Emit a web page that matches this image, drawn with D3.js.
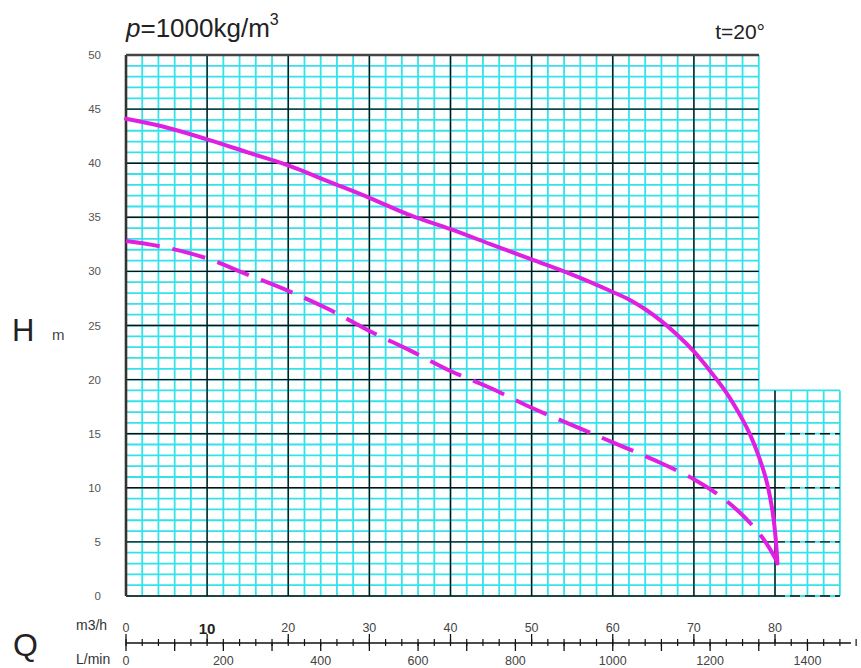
<!DOCTYPE html>
<html>
<head>
<meta charset="utf-8">
<script src="https://cdn.jsdelivr.net/npm/d3@7/dist/d3.min.js"></script>
<style>
  html, body { margin: 0; padding: 0; background: #fff; }
  svg { display: block; font-family: "Liberation Sans", Arial, sans-serif; }
</style>
</head>
<body>
<svg id="chart" width="861" height="668"></svg>
<script>
// ---- data ----
const hTicks = [0, 5, 10, 15, 20, 25, 30, 35, 40, 45, 50];
const qTicks = [0, 10, 20, 30, 40, 50, 60, 70, 80];
const lminTicks = [0, 200, 400, 600, 800, 1000, 1200, 1400];

// solid curve (H-Q)
const solidQ = [0, 5, 10, 15, 20, 25, 30, 35, 40, 45, 50, 55, 60, 62, 64, 66, 68, 70, 72, 74, 76, 77, 78, 79, 79.7, 80.1, 80.3];
const solidH = [44.1, 43.3, 42.2, 41.0, 39.8, 38.3, 36.8, 35.2, 33.9, 32.5, 31.1, 29.7, 28.1, 27.4, 26.5, 25.4, 24.1, 22.6, 20.8, 18.8, 16.3, 14.8, 12.9, 10.5, 7.8, 5.2, 3.0];
// dashed curve
const dashQ = [0, 5, 10, 15, 20, 25, 30, 35, 40, 45, 50, 55, 60, 65, 70, 74, 77, 79, 80.3];
const dashH = [32.8, 32.2, 31.2, 29.7, 28.2, 26.5, 24.5, 22.7, 20.8, 19.2, 17.4, 15.8, 14.2, 12.6, 10.8, 8.8, 6.7, 4.8, 3.1];

// grid extents (m3/h, m)
const gridMainQ = 78, gridExtQ = 88, gridExtH = 19;

const svg = d3.select("#chart");
const x = d3.scaleLinear().domain([0, 80]).range([126, 775]);
const xL = d3.scaleLinear().domain([0, 80 / 0.06]).range([126, 775]);
const y = d3.scaleLinear().domain([0, 50]).range([596, 55]);

const cyan = "#35e2ea";
const g = svg.append("g");

// cyan minor grid
const vMinor = d3.range(0, gridExtQ + 0.001, 2);
g.selectAll(".vmin").data(vMinor).join("line")
  .attr("x1", d => x(d)).attr("x2", d => x(d))
  .attr("y1", y(0)).attr("y2", d => y(d <= gridMainQ ? 50 : gridExtH))
  .attr("stroke", cyan).attr("stroke-width", 1.8);
const hMinor = d3.range(0, 50.001, 1);
g.selectAll(".hmin").data(hMinor).join("line")
  .attr("x1", x(0)).attr("x2", d => x(d <= gridExtH ? gridExtQ : gridMainQ))
  .attr("y1", d => y(d)).attr("y2", d => y(d))
  .attr("stroke", cyan).attr("stroke-width", 1.8);

// black major grid
const vMajor = d3.range(0, 80.001, 10);
g.selectAll(".vmaj").data(vMajor).join("line")
  .attr("x1", d => x(d)).attr("x2", d => x(d))
  .attr("y1", y(0)).attr("y2", d => y(d <= gridMainQ ? 50 : gridExtH))
  .attr("stroke", "#111").attr("stroke-width", 1.4);
const hMajor = d3.range(0, 50.001, 5);
g.selectAll(".hmaj").data(hMajor).join("line")
  .attr("x1", x(0)).attr("x2", d => x(d <= gridExtH ? 80 : gridMainQ))
  .attr("y1", d => y(d)).attr("y2", d => y(d))
  .attr("stroke", "#111").attr("stroke-width", 1.4);
g.selectAll(".hmajd").data(hMajor.filter(d => d <= gridExtH)).join("line")
  .attr("x1", x(80)).attr("x2", x(gridExtQ))
  .attr("y1", d => y(d)).attr("y2", d => y(d))
  .attr("stroke", "#111").attr("stroke-width", 1.4)
  .attr("stroke-dasharray", "10,5");

// borders
g.append("line").attr("x1", x(0)).attr("x2", x(0)).attr("y1", y(0)).attr("y2", y(50))
  .attr("stroke", "#333").attr("stroke-width", 2.6);
g.append("line").attr("x1", x(0)).attr("x2", x(gridMainQ)).attr("y1", y(50)).attr("y2", y(50))
  .attr("stroke", "#444").attr("stroke-width", 2.6);

// curves
const line = d3.line().x(d => x(d[0])).y(d => y(d[1])).curve(d3.curveCatmullRom.alpha(0.5));
const solidPts = solidQ.map((q, i) => [q, solidH[i]]);
const dashPts = dashQ.map((q, i) => [q, dashH[i]]);
g.append("path").attr("d", line(solidPts)).attr("fill", "none")
  .attr("stroke", "#e020e0").attr("stroke-width", 4).attr("stroke-linecap", "round");
g.append("path").attr("d", line(dashPts)).attr("fill", "none")
  .attr("stroke", "#e020e0").attr("stroke-width", 4)
  .attr("stroke-dasharray", "34,13");

// y tick labels
svg.selectAll(".ylab").data(hTicks).join("text")
  .attr("x", 101).attr("y", d => y(d) + 4)
  .attr("text-anchor", "end").attr("font-size", 11.5).attr("fill", "#555")
  .text(d => d);

// H label
svg.append("text").attr("x", 12).attr("y", 341).attr("font-size", 31).attr("fill", "#222").text("H");
svg.append("text").attr("x", 52).attr("y", 340).attr("font-size", 15).attr("fill", "#444").text("m");

// title texts
const t = svg.append("text").attr("x", 126).attr("y", 37).attr("font-size", 26).attr("fill", "#222");
t.append("tspan").attr("font-style", "italic").text("p");
t.append("tspan").text("=1000kg/m");
t.append("tspan").attr("font-size", 16).attr("dy", -12).text("3");
svg.append("text").attr("x", 765).attr("y", 39).attr("text-anchor", "end")
  .attr("font-size", 21).attr("fill", "#222").text("t=20°");

// bottom Q axis
const axY = 643;
svg.append("line").attr("x1", x(0)).attr("x2", 851).attr("y1", axY).attr("y2", axY)
  .attr("stroke", "#111").attr("stroke-width", 1.3);
const minorQ = d3.range(0, 90.001, 2);
svg.selectAll(".mt").data(minorQ).join("line")
  .attr("x1", d => x(d)).attr("x2", d => x(d))
  .attr("y1", axY - 4).attr("y2", axY + 3)
  .attr("stroke", "#111").attr("stroke-width", 1.2);
svg.selectAll(".qt").data(qTicks).join("line")
  .attr("x1", d => x(d)).attr("x2", d => x(d))
  .attr("y1", axY - 9).attr("y2", axY)
  .attr("stroke", "#111").attr("stroke-width", 1.3);
const lTickVals = d3.range(0, 1500.001, 100);
svg.selectAll(".lt").data(lTickVals.filter(v => xL(v) <= 851)).join("line")
  .attr("x1", d => xL(d)).attr("x2", d => xL(d))
  .attr("y1", axY).attr("y2", axY + 8)
  .attr("stroke", "#111").attr("stroke-width", 1.3);

svg.selectAll(".ql").data(qTicks).join("text")
  .attr("x", d => x(d)).attr("y", d => d === 10 ? 634 : 632)
  .attr("text-anchor", "middle")
  .attr("font-size", d => d === 10 ? 15 : 12.5)
  .attr("font-weight", d => d === 10 ? "bold" : "normal")
  .attr("fill", d => d === 10 ? "#222" : "#444")
  .text(d => d);
svg.selectAll(".ll").data(lminTicks).join("text")
  .attr("x", d => xL(d)).attr("y", 665)
  .attr("text-anchor", "middle").attr("font-size", 12.5).attr("fill", "#444")
  .text(d => d);

svg.append("text").attr("x", 13).attr("y", 656).attr("font-size", 32).attr("fill", "#222").text("Q");
svg.append("text").attr("x", 76).attr("y", 630).attr("font-size", 14).attr("fill", "#333").text("m3/h");
svg.append("text").attr("x", 76).attr("y", 664).attr("font-size", 14).attr("fill", "#333").text("L/min");
</script>
</body>
</html>
